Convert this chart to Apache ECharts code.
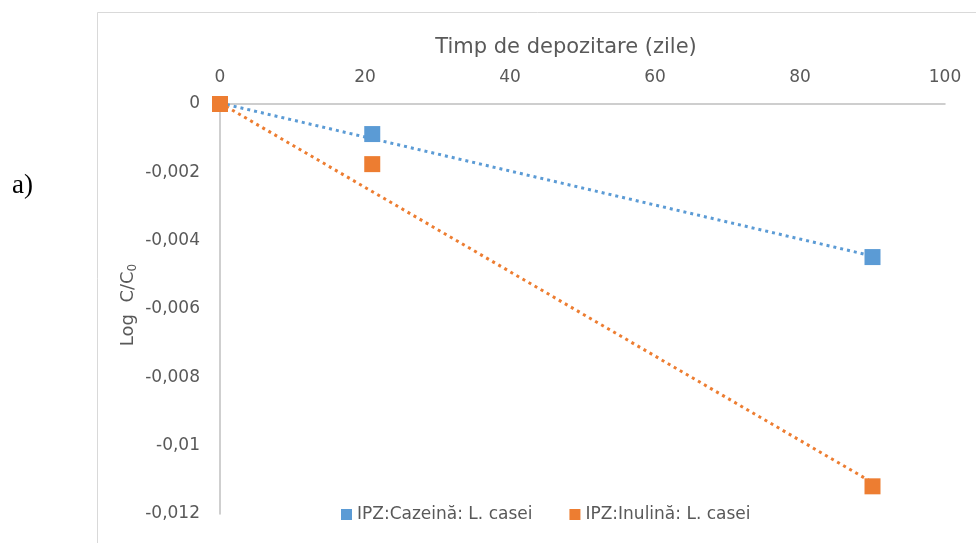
<!DOCTYPE html>
<html><head><meta charset="utf-8">
<script src="https://cdn.jsdelivr.net/npm/echarts@6/dist/echarts.min.js"></script>
<style>html,body{margin:0;padding:0;background:#fff}#c{width:976px;height:543px}</style>
</head><body><div id="c"></div>
<script>
const days = [0, 21, 90];
const cazeina = [0, -0.00088, -0.00448];
const inulina = [0, -0.00176, -0.01119];
const trendDays = [0, 90];
const cazeinaTrend = [0.00003, -0.00445];
const inulinaTrend = [0.00003, -0.01108];
const seriesNames = ['IPZ:Cazeină: L. casei', 'IPZ:Inulină: L. casei'];
const xTicks = [0, 20, 40, 60, 80, 100];
const yTicks = [0, -0.002, -0.004, -0.006, -0.008, -0.01, -0.012];
const colors = ['#5b9bd5', '#ed7d31'];

const pairs = (xs, ys) => xs.map((x, i) => [x, ys[i]]);
const fmtY = v => Number(v.toFixed(4)).toString().replace('.', ',');
const grey = '#595959';
const font = 'DejaVu Sans';

const chart = echarts.init(document.getElementById('c'), null, {renderer: 'canvas'});
chart.setOption({
  animation: false,
  backgroundColor: '#fff',
  grid: {left: 220, top: 104, right: 31, bottom: 29, containLabel: false},
  xAxis: {
    type: 'value', position: 'top',
    min: xTicks[0], max: xTicks[xTicks.length - 1], interval: 20,
    axisLine: {show: true, onZero: false, lineStyle: {color: '#bfbfbf', width: 1.5}},
    axisTick: {show: false},
    splitLine: {show: false},
    axisLabel: {color: grey, fontFamily: font, fontSize: 17, margin: 18}
  },
  yAxis: {
    type: 'value',
    min: yTicks[yTicks.length - 1], max: yTicks[0], interval: 0.002,
    axisLine: {show: true, onZero: false, lineStyle: {color: '#bfbfbf', width: 1.5}},
    axisTick: {show: false},
    splitLine: {show: false},
    axisLabel: {color: grey, fontFamily: font, fontSize: 17, margin: 20, formatter: fmtY}
  },
  legend: {
    data: seriesNames.map(n => ({name: n, icon: 'rect'})),
    top: 501, left: 336,
    itemWidth: 11, itemHeight: 11, itemGap: 37,
    textStyle: {color: grey, fontFamily: font, fontSize: 17}
  },
  graphic: [
    {type: 'rect', shape: {x: 97.5, y: 12.5, width: 1000, height: 600}, style: {fill: 'none', stroke: '#d9d9d9', lineWidth: 1}, z: -1},
    {type: 'text', x: 566, y: 48, style: {text: 'Timp de depozitare (zile)', fill: grey, font: '21px "DejaVu Sans"', align: 'center', verticalAlign: 'middle'}},
    {type: 'text', x: 128, y: 305, rotation: Math.PI / 2,
      style: {text: '{a|Log  C/C}{b|0}', align: 'center', verticalAlign: 'middle',
        rich: {a: {fill: grey, fontFamily: font, fontSize: 18}, b: {fill: grey, fontFamily: font, fontSize: 12, padding: [9, 0, 0, 0]}}}},
    {type: 'text', left: 12, top: 172, style: {text: 'a)', fill: '#000', font: '27px "Liberation Serif"'}}
  ],
  series: [
    {name: seriesNames[0] + ' trend', type: 'line', data: pairs(trendDays, cazeinaTrend), symbol: 'none',
      lineStyle: {color: colors[0], type: [3, 4], width: 3}, z: 1, silent: true},
    {name: seriesNames[1] + ' trend', type: 'line', data: pairs(trendDays, inulinaTrend), symbol: 'none',
      lineStyle: {color: colors[1], type: [3, 4], width: 3}, z: 1, silent: true},
    {name: seriesNames[0], type: 'scatter', data: pairs(days, cazeina), symbol: 'rect', symbolSize: 16,
      itemStyle: {color: colors[0], opacity: 1}, z: 3},
    {name: seriesNames[1], type: 'scatter', data: pairs(days, inulina), symbol: 'rect', symbolSize: 16,
      itemStyle: {color: colors[1], opacity: 1}, z: 4}
  ]
});
</script></body></html>
